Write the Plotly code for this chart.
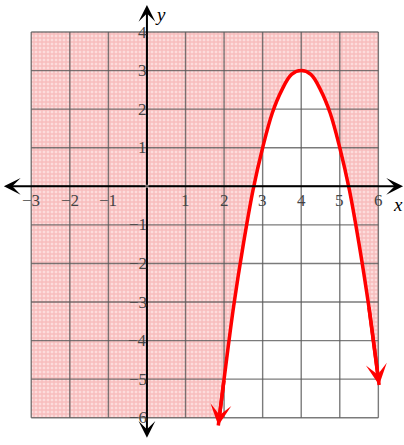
import plotly.graph_objects as go

# points (x, y)
curve_x = [1.85, 2.0, 2.25, 2.5, 2.75, 3.0, 3.25, 3.5, 3.75, 4.0, 4.25, 4.5, 4.75, 5.0, 5.25, 5.5, 5.75, 6.02]
curve_y = [-6.2, -5.0, -3.1, -1.5, -0.1, 1.0, 1.9, 2.5, 2.9, 3.0, 2.9, 2.5, 1.9, 1.0, -0.1, -1.5, -3.1, -5.15]

x_ticks = [-3, -2, -1, 0, 1, 2, 3, 4, 5, 6]
y_ticks = [-6, -5, -4, -3, -2, -1, 0, 1, 2, 3, 4]

xmin, xmax = x_ticks[0], x_ticks[-1]
ymin, ymax = y_ticks[0], y_ticks[-1]

fig = go.Figure()

# shaded region above the curve, clipped to the grid
fx = [xmin, xmin] + [min(max(v, xmin), xmax) for v in curve_x] + [xmax, xmin]
fy = [ymax, ymin] + [min(max(v, ymin), ymax) for v in curve_y] + [ymax, ymax]
fig.add_trace(go.Scatter(
    x=fx, y=fy, mode='lines', fill='toself', line=dict(width=0),
    fillcolor='#f7b6b6',
    fillpattern=dict(shape='+', bgcolor='#fcdcdc', fgcolor='#f4a0a0',
                     size=4, solidity=0.6),
    hoverinfo='skip'))

# grid
gx, gy = [], []
for v in x_ticks:
    gx += [v, v, None]
    gy += [ymin, ymax, None]
for v in y_ticks:
    gx += [xmin, xmax, None]
    gy += [v, v, None]
fig.add_trace(go.Scatter(x=gx, y=gy, mode='lines',
                         line=dict(color='rgba(90,90,90,0.8)', width=1.4),
                         hoverinfo='skip'))

# parabola
fig.add_trace(go.Scatter(x=curve_x, y=curve_y, mode='lines',
                         line=dict(color='#ff0000', width=3.5, shape='spline'),
                         hoverinfo='skip'))

ann = []
# axes with arrows
for tip in [(6.64, 0), (-3.71, 0), (0, 4.7), (0, -6.52)]:
    ann.append(dict(x=tip[0], y=tip[1], ax=0, ay=0, xref='x', yref='y',
                    axref='x', ayref='y', text='', showarrow=True,
                    arrowhead=3, arrowwidth=2, arrowsize=1.4,
                    arrowcolor='black', standoff=0))
# arrows on curve ends
for i, j in [(0, 1), (-1, -2)]:
    ann.append(dict(x=curve_x[i], y=curve_y[i], ax=curve_x[j], ay=curve_y[j],
                    xref='x', yref='y', axref='x', ayref='y', text='',
                    showarrow=True, arrowhead=3, arrowwidth=3.5,
                    arrowsize=1.0, arrowcolor='#ff0000', standoff=0))

tick_font = dict(family='Liberation Serif', size=17, color='#444444')
for v in x_ticks:
    if v == 0:
        continue
    ann.append(dict(x=v, y=0, xref='x', yref='y', showarrow=False,
                    text=str(v).replace('-', '\u2212'), font=tick_font,
                    xanchor='center', yanchor='top', yshift=-3))
for v in y_ticks:
    if v == 0:
        continue
    ann.append(dict(x=0, y=v, xref='x', yref='y', showarrow=False,
                    text=str(v).replace('-', '\u2212'), font=tick_font,
                    xanchor='right', yanchor='middle', xshift=2))

lab_font = dict(family='Liberation Serif', size=19, color='black')
ann.append(dict(x=6.51, y=-0.48, xref='x', yref='y', showarrow=False,
                text='<i>x</i>', font=lab_font))
ann.append(dict(x=0.34, y=4.45, xref='x', yref='y', showarrow=False,
                text='<i>y</i>', font=lab_font))

fig.update_layout(
    width=404, height=445,
    margin=dict(l=0, r=0, t=0, b=0),
    paper_bgcolor='white', plot_bgcolor='white',
    showlegend=False,
    annotations=ann,
    xaxis=dict(range=[-3.81, 6.665], visible=False, fixedrange=True),
    yaxis=dict(range=[-6.707, 4.83], visible=False, fixedrange=True),
)

fig.write_html("out.html", config={'displayModeBar': False},
               post_script="document.body.style.margin='0';document.body.style.overflow='hidden';")
